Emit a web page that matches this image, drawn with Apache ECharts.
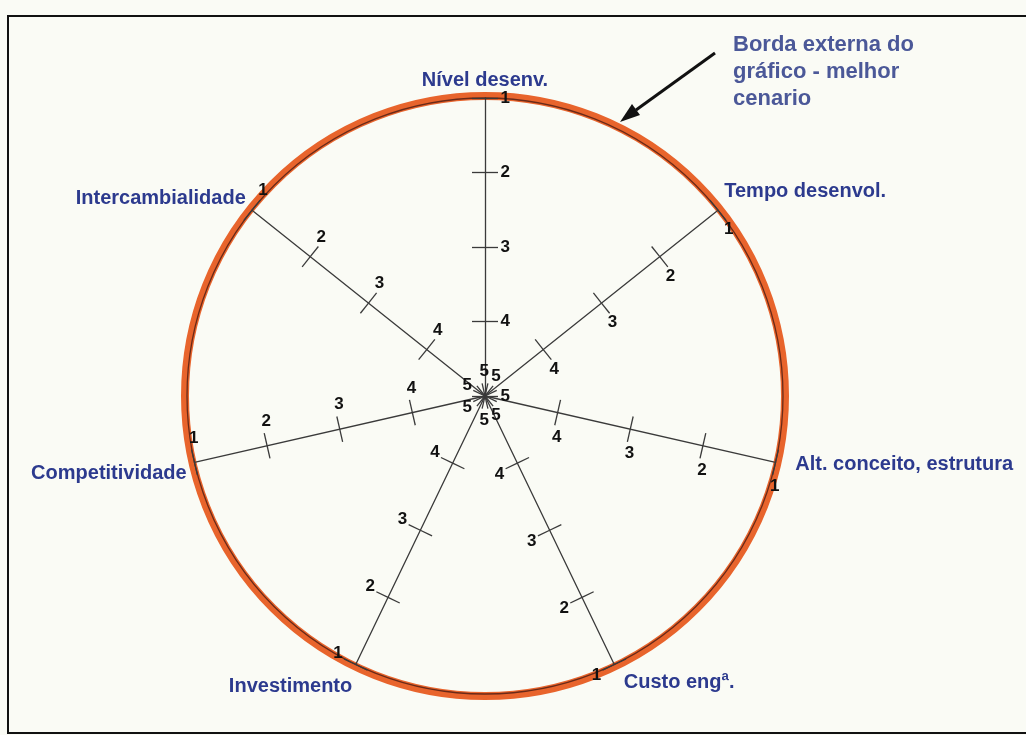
<!DOCTYPE html>
<html>
    <head>
        <meta charset="utf-8">
        <script src="https://cdn.jsdelivr.net/npm/echarts@6/dist/echarts.min.js"></script>
        <style>
            html, body { margin: 0; padding: 0; background: #fafbf5; }
        </style>
    </head>
    <body>
        <div id="main" style="width: 1026px;height:735px;"></div>
        <script type="text/javascript">
            // eixos do radar, no sentido anti-horario a partir do topo
            var eixos = ['Nível desenv.', 'Intercambialidade', 'Competitividade', 'Investimento', 'Custo engª.', 'Alt. conceito, estrutura', 'Tempo desenvol.'];
            // rotulos da escala, do centro para a borda (1 = borda externa, melhor cenario)
            var niveis = ['5', '4', '3', '2', '1'];
            var nota = ['Borda externa do', 'gráfico - melhor', 'cenario'];

            var azulEixo = '#2c3a8e';
            var laranja = '#e8642c';
            var cinza = '#3a3a3a';

            // pequenos ajustes dos nomes dos eixos (padding do rich text: cima, dir, baixo, esq)
            var ajusteNome = [
                [0, 0, 0, 0],
                [0, 0, 14, 0],
                [18, 0, 0, 0],
                [30, 0, 0, 0],
                [22, 0, 0, 6],
                [0, 0, 0, 12],
                [0, 0, 28, 0]
            ];

            var estiloNome = {
                color: azulEixo,
                fontFamily: 'Liberation Sans',
                fontWeight: 'bold',
                fontSize: 20
            };
            var richNomes = {};
            ajusteNome.forEach(function (p, i) {
                richNomes['n' + i] = Object.assign({ padding: p }, estiloNome);
            });

            var myChart = echarts.init(document.getElementById('main'));

            var anelExterno = niveis.map(function (n, i) { return i === niveis.length - 1 ? laranja : 'transparent'; });
            var anelEscuro = niveis.map(function (n, i) { return i === niveis.length - 1 ? '#6a2a18' : 'transparent'; });

            var option = {
                backgroundColor: '#fafbf5',
                title: {
                    text: nota.join('\n'),
                    left: 733,
                    top: 31,
                    padding: 0,
                    textStyle: {
                        color: '#4b5898',
                        fontFamily: 'Liberation Sans',
                        fontWeight: 'bold',
                        fontSize: 22,
                        lineHeight: 27
                    }
                },
                radar: [{
                    center: [485, 396],
                    radius: 300,
                    startAngle: 90,
                    shape: 'circle',
                    splitNumber: niveis.length - 1,
                    indicator: eixos.map(function (n) {
                        return { name: n, min: 0, max: niveis.length - 1 };
                    }),
                    axisName: Object.assign({
                        formatter: function (n) {
                            return '{n' + eixos.indexOf(n) + '|' + n + '}';
                        },
                        rich: richNomes
                    }, estiloNome),
                    nameGap: 6,
                    axisLine: { show: false },
                    axisTick: { show: false },
                    axisLabel: { show: false },
                    splitLine: {
                        show: true,
                        lineStyle: { color: anelExterno, width: 8 }
                    },
                    splitArea: { show: false }
                }, {
                    // segundo radar: eixos, tracos, rotulos e contorno escuro do anel
                    center: [485, 396],
                    radius: 298,
                    startAngle: 90,
                    shape: 'circle',
                    splitNumber: niveis.length - 1,
                    indicator: eixos.map(function () {
                        return { name: '', min: 0, max: niveis.length - 1 };
                    }),
                    axisName: { show: false },
                    axisLine: { show: true, lineStyle: { color: cinza, width: 1.3 } },
                    axisTick: { show: true, length: 13, lineStyle: { color: cinza, width: 1.3 } },
                    axisLabel: {
                        show: true,
                        color: '#111',
                        fontFamily: 'Liberation Sans',
                        fontWeight: 'bold',
                        fontSize: 17,
                        margin: -25,
                        formatter: function (v) { return niveis[v] || ''; }
                    },
                    splitLine: {
                        show: true,
                        lineStyle: { color: anelEscuro, width: 1.3 }
                    },
                    splitArea: { show: false }
                }, {
                    // terceiro radar: o outro lado dos tracos
                    center: [485, 396],
                    radius: 298,
                    startAngle: 90,
                    shape: 'circle',
                    splitNumber: niveis.length - 1,
                    indicator: eixos.map(function () {
                        return { name: '', min: 0, max: niveis.length - 1 };
                    }),
                    axisName: { show: false },
                    axisLine: { show: false },
                    axisTick: { show: true, length: -13, lineStyle: { color: cinza, width: 1.3 } },
                    axisLabel: { show: false },
                    splitLine: { show: false },
                    splitArea: { show: false }
                }],
                graphic: [
                    {
                        type: 'rect',
                        shape: { x: 8, y: 16, width: 1040, height: 717 },
                        style: { fill: 'none', stroke: '#111', lineWidth: 2 }
                    },
                    {
                        type: 'line',
                        shape: { x1: 715, y1: 53, x2: 636, y2: 110 },
                        style: { stroke: '#111', lineWidth: 3 }
                    },
                    {
                        type: 'polygon',
                        shape: { points: [[620, 122], [640, 115], [632, 104]] },
                        style: { fill: '#111' }
                    }
                ],
                series: []
            };

            myChart.setOption(option);
        </script>
    </body>
</html>
